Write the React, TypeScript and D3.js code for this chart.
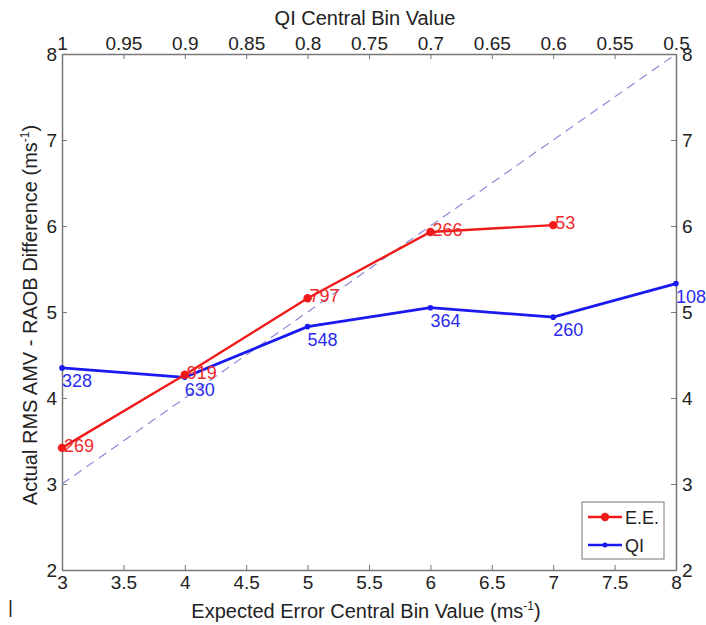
import { useRef, useEffect } from 'react';
import * as d3 from 'd3';

// Expected error central bin values (bottom axis)
const eeBins = [3, 4, 5, 6, 7];
const eeValues = [3.42, 4.27, 5.16, 5.93, 6.01];
const eeCounts = ['269', '919', '797', '266', '53'];

// QI series plotted against the same bottom positions
const qiBins = [3, 4, 5, 6, 7, 8];
const qiValues = [4.35, 4.24, 4.83, 5.05, 4.94, 5.33];
const qiCounts = ['328', '630', '548', '364', '260', '108'];

const bottomTicks = [3, 3.5, 4, 4.5, 5, 5.5, 6, 6.5, 7, 7.5, 8];
const topTicks = [1, 0.95, 0.9, 0.85, 0.8, 0.75, 0.7, 0.65, 0.6, 0.55, 0.5];
const yTicks = [2, 3, 4, 5, 6, 7, 8];
const diagonal = [3, 8];

export default function App() {
  const svgRef = useRef<SVGSVGElement>(null);

  useEffect(() => {
    if (!svgRef.current) return;
    const svg = d3.select(svgRef.current);
    svg.selectAll('*').remove();

    const width = 706;
    const height = 625;
    const margin = { top: 54, right: 30, bottom: 55, left: 62 };
    const innerW = 676 - margin.left;
    const innerH = 570 - margin.top;
    const font = 'Liberation Sans, Arial, sans-serif';
    const fs = '19px';
    const titleFs = '20px';

    svg.attr('width', width).attr('height', height);
    svg.append('rect').attr('width', width).attr('height', height).attr('fill', '#fff');

    const g = svg.append('g').attr('transform', `translate(${margin.left},${margin.top})`);

    const x = d3.scaleLinear().domain([3, 8]).range([0, innerW]);
    const xTop = d3.scaleLinear().domain([1, 0.5]).range([0, innerW]);
    const y = d3.scaleLinear().domain([2, 8]).range([innerH, 0]);

    const tickLen = 5;
    const axisColor = '#777';
    const fmt = (d: number) => String(d);

    // Bottom axis (ticks inward, MATLAB style)
    const bottom = g.append('g').attr('transform', `translate(0,${innerH})`)
      .call(d3.axisBottom(x).tickValues(bottomTicks).tickFormat((d) => fmt(d as number)).tickSizeInner(-tickLen).tickSizeOuter(0).tickPadding(6));
    // Top axis
    const top = g.append('g')
      .call(d3.axisTop(xTop).tickValues(topTicks).tickFormat((d) => fmt(d as number)).tickSizeInner(-tickLen).tickSizeOuter(0).tickPadding(4));
    // Left axis
    const left = g.append('g')
      .call(d3.axisLeft(y).tickValues(yTicks).tickFormat((d) => fmt(d as number)).tickSizeInner(-tickLen).tickSizeOuter(0).tickPadding(5));
    // Right axis
    const right = g.append('g').attr('transform', `translate(${innerW},0)`)
      .call(d3.axisRight(y).tickValues(yTicks).tickFormat((d) => fmt(d as number)).tickSizeInner(-tickLen).tickSizeOuter(0).tickPadding(6));

    [bottom, top, left, right].forEach((a) => {
      a.selectAll('path').attr('stroke', axisColor).attr('stroke-width', 1.5);
      a.selectAll('line').attr('stroke', axisColor);
      a.selectAll('text').attr('fill', '#222').style('font-family', font).style('font-size', fs);
    });

    // Diagonal 1:1 reference
    g.append('line')
      .attr('x1', x(diagonal[0])).attr('y1', y(diagonal[0]))
      .attr('x2', x(diagonal[1])).attr('y2', y(diagonal[1]))
      .attr('stroke', '#8a8ad8').attr('stroke-width', 1.2).attr('stroke-dasharray', '9,6');

    const line = d3.line<[number, number]>().x((d) => x(d[0])).y((d) => y(d[1]));
    const ee = eeBins.map((b, i) => [b, eeValues[i]] as [number, number]);
    const qi = qiBins.map((b, i) => [b, qiValues[i]] as [number, number]);

    // QI series
    g.append('path').datum(qi).attr('fill', 'none').attr('stroke', '#1a1af0').attr('stroke-width', 2.8).attr('d', line);
    g.selectAll('.qi-dot').data(qi).join('circle')
      .attr('cx', (d) => x(d[0])).attr('cy', (d) => y(d[1])).attr('r', 2.8).attr('fill', '#1a1af0');

    // E.E. series
    g.append('path').datum(ee).attr('fill', 'none').attr('stroke', '#f01a1a').attr('stroke-width', 2.4).attr('d', line);
    g.selectAll('.ee-dot').data(ee).join('circle')
      .attr('cx', (d) => x(d[0])).attr('cy', (d) => y(d[1])).attr('r', 4.2).attr('fill', '#f01a1a');

    // Count labels
    g.selectAll('.ee-lab').data(ee).join('text')
      .attr('x', (d) => x(d[0]) + 2).attr('y', (d) => y(d[1]) + 4)
      .attr('fill', '#f02a2a').style('font-family', font).style('font-size', '18px')
      .text((_, i) => eeCounts[i]);
    g.selectAll('.qi-lab').data(qi).join('text')
      .attr('x', (d) => x(d[0])).attr('y', (d) => y(d[1]) + 19)
      .attr('fill', '#2a2af0').style('font-family', font).style('font-size', '18px')
      .text((_, i) => qiCounts[i]);

    // Axis titles
    svg.append('text').attr('x', 365).attr('y', 25).attr('text-anchor', 'middle')
      .attr('fill', '#222').style('font-family', font).style('font-size', titleFs).text('QI Central Bin Value');

    const xl = svg.append('text').attr('x', 366).attr('y', 618).attr('text-anchor', 'middle')
      .attr('fill', '#222').style('font-family', font).style('font-size', titleFs);
    xl.append('tspan').text('Expected Error Central Bin Value (ms');
    xl.append('tspan').attr('dy', -8).style('font-size', '12px').text('-1');
    xl.append('tspan').attr('dy', 8).text(')');

    const yl = svg.append('text').attr('transform', `translate(37,315) rotate(-90)`)
      .attr('text-anchor', 'middle').attr('fill', '#222').style('font-family', font).style('font-size', titleFs);
    yl.append('tspan').text('Actual RMS AMV - RAOB Difference (ms');
    yl.append('tspan').attr('dy', -8).style('font-size', '12px').text('-1');
    yl.append('tspan').attr('dy', 8).text(')');

    svg.append('text').attr('x', 8).attr('y', 613).attr('fill', '#222')
      .style('font-family', font).style('font-size', fs).text('|');

    // Legend
    const lg = svg.append('g').attr('transform', 'translate(582,502)');
    lg.append('rect').attr('width', 82).attr('height', 57).attr('fill', '#fff').attr('stroke', '#777');
    const items = [
      { label: 'E.E.', color: '#f01a1a', r: 4.2 },
      { label: 'QI', color: '#1a1af0', r: 2.5 },
    ];
    items.forEach((it, i) => {
      const cy = 15 + i * 28;
      lg.append('line').attr('x1', 6).attr('x2', 40).attr('y1', cy).attr('y2', cy)
        .attr('stroke', it.color).attr('stroke-width', 2.4);
      lg.append('circle').attr('cx', 23).attr('cy', cy).attr('r', it.r).attr('fill', it.color);
      lg.append('text').attr('x', 43).attr('y', cy + 7).attr('fill', '#222')
        .style('font-family', font).style('font-size', '18px').text(it.label);
    });
  }, []);

  return <svg ref={svgRef} style={{ position: 'absolute', left: 0, top: 0, display: 'block' }} />;
}
